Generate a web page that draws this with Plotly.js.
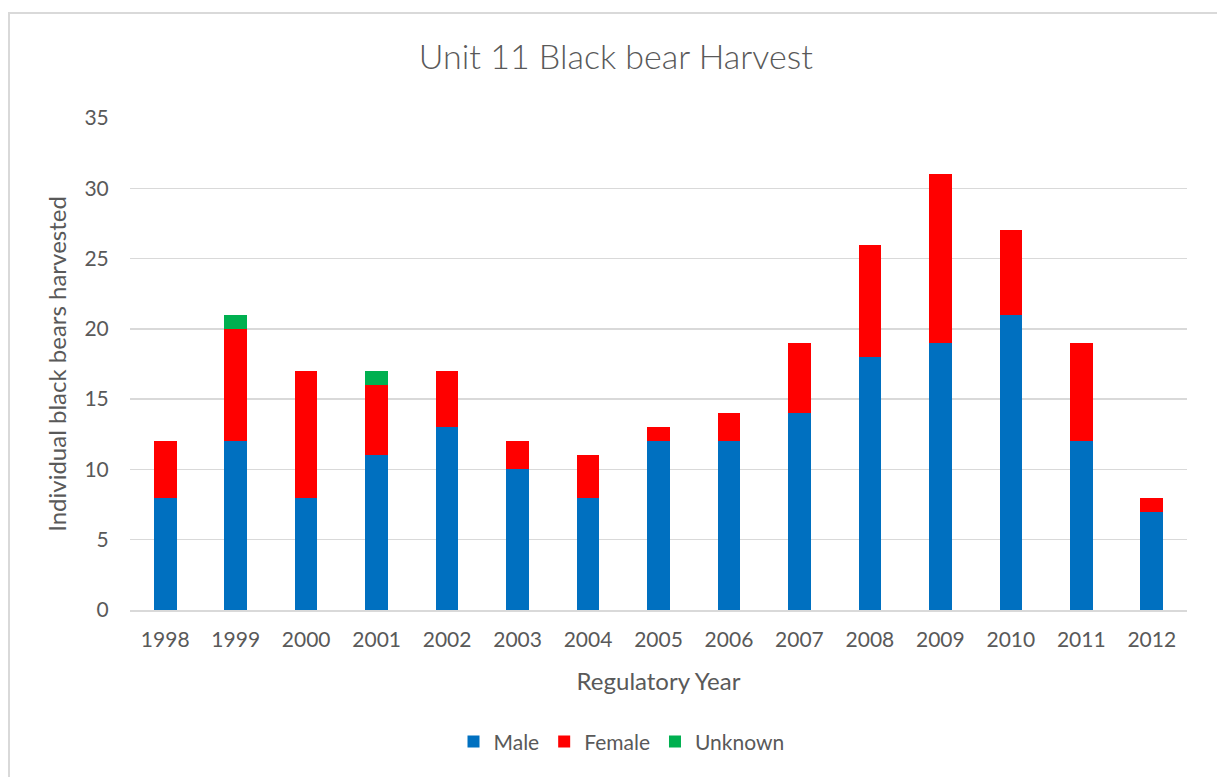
<!DOCTYPE html>
<html><head><meta charset="utf-8">
<script src="https://cdn.plot.ly/plotly-3.0.1.min.js"></script>
<style>
html,body{margin:0;padding:0;overflow:hidden;background:#fff;}
#wrap{position:relative;width:1217px;height:777px;overflow:hidden;}
#chart{position:absolute;left:0;top:0;width:1217px;height:777px;}
#frame{position:absolute;left:8px;top:12px;width:1230px;height:790px;border:2px solid #d9d9d9;pointer-events:none;}
</style></head>
<body>
<div id="wrap"><div id="chart"></div><div id="frame"></div></div>
<script>
const years = ['1998','1999','2000','2001','2002','2003','2004','2005','2006','2007','2008','2009','2010','2011','2012'];
const male = [8,12,8,11,13,10,8,12,12,14,18,19,21,12,7];
const female = [4,8,9,5,4,2,3,1,2,5,8,12,6,7,1];
const unknown = [0,1,0,1,0,0,0,0,0,0,0,0,0,0,0];
const yTicks = [0,5,10,15,20,25,30,35];

const font = 'Lato, "Open Sans", sans-serif';
const grey = '#595959';
const traces = [
  {type:'bar', name:'Male', x:years, y:male, marker:{color:'#0070C0'}},
  {type:'bar', name:'Female', x:years, y:female, marker:{color:'#FF0000'}},
  {type:'bar', name:'Unknown', x:years, y:unknown, marker:{color:'#00B050'}}
];
const layout = {
  width:1217, height:777,
  margin:{l:130, r:30, t:118, b:167},
  paper_bgcolor:'rgba(0,0,0,0)', plot_bgcolor:'#fff',
  barmode:'stack', bargap:0.68,
  font:{family:font, color:grey, size:21},
  title:{text:'Unit 11 Black bear Harvest', x:0.506, xanchor:'center', y:0.927, yanchor:'middle', font:{family:font, size:34, color:grey, weight:300}},
  xaxis:{type:'category', showgrid:false, showline:true, linecolor:'#d9d9d9', linewidth:2,
    ticks:'outside', ticklen:10, tickcolor:'rgba(0,0,0,0)', tickfont:{size:21, color:grey},
    title:{text:'Regulatory Year', font:{size:24, color:grey}, standoff:23}},
  yaxis:{range:[0,35], tickvals:yTicks, showgrid:true, gridcolor:'#d9d9d9', gridwidth:1.5, zeroline:false,
    showline:false, ticks:'outside', ticklen:16, tickcolor:'rgba(0,0,0,0)', tickfont:{size:21, color:grey},
    title:{text:'Individual black bears harvested', font:{size:24, color:grey}, standoff:11}},
  legend:{orientation:'h', x:0.465, xanchor:'center', y:-0.268, yanchor:'middle', font:{size:21, color:grey}, traceorder:'normal'},
  showlegend:true
};
Plotly.newPlot('chart', traces, layout, {displayModeBar:false, staticPlot:true});
</script>
</body></html>
